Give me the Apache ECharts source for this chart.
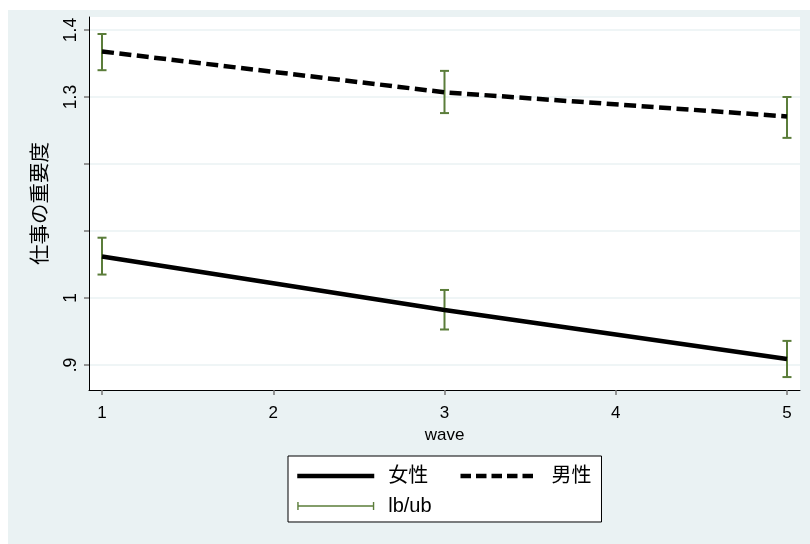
<!DOCTYPE html>
<html>
<head>
<meta charset="utf-8">
<script src="https://cdn.jsdelivr.net/npm/echarts@6/dist/echarts.min.js"></script>
<style>
html,body{margin:0;padding:0;background:#fff;}
#chart{position:absolute;left:8px;top:10px;width:802px;height:534px;}
</style>
</head>
<body>
<div id="chart"></div>
<script>
// ---- data ----
const waves = [1, 3, 5];
const femaleMean = [1.062, 0.982, 0.909];
const maleMean   = [1.368, 1.307, 1.271];
const femaleLB = [1.035, 0.953, 0.882];
const femaleUB = [1.090, 1.012, 0.936];
const maleLB   = [1.340, 1.276, 1.239];
const maleUB   = [1.394, 1.339, 1.300];
const xTicks = [1, 2, 3, 4, 5];
const yTicks = [0.9, 1.0, 1.1, 1.2, 1.3, 1.4];
const yTickLabels = ['.9', '1', '', '', '1.3', '1.4'];
const seriesNames = ['女性', '男性', 'lb/ub'];

const FONT = '"Liberation Sans", "Noto Sans CJK JP", sans-serif';
const GREEN = '#5b7d3a';

const errData = [];
waves.forEach((w, i) => { errData.push([w, femaleLB[i], femaleUB[i]]); });
waves.forEach((w, i) => { errData.push([w, maleLB[i], maleUB[i]]); });

const chart = echarts.init(document.getElementById('chart'));
chart.setOption({
  backgroundColor: '#EAF2F3',
  animation: false,
  textStyle: { fontFamily: FONT },
  grid: { left: 81, top: 7, width: 711, height: 373, show: true, backgroundColor: '#fff', borderWidth: 0 },
  xAxis: {
    type: 'value', min: 0.924, max: 5.076,
    name: 'wave', nameLocation: 'middle', nameGap: 37,
    nameTextStyle: { fontSize: 17, color: '#000', fontFamily: FONT },
    axisLine: { show: true, onZero: false, lineStyle: { color: '#000', width: 1 } },
    axisTick: { show: true, customValues: xTicks, length: 5, lineStyle: { color: '#777', width: 1.5 } },
    axisLabel: { customValues: xTicks, fontSize: 17, color: '#000', margin: 15, fontFamily: FONT },
    splitLine: { show: false }
  },
  yAxis: {
    type: 'value', min: 0.8627, max: 1.4194,
    name: '仕事の重要度', nameLocation: 'middle', nameGap: 37,
    nameTextStyle: { fontSize: 20.5, color: '#000', fontFamily: FONT },
    axisLine: { show: true, onZero: false, lineStyle: { color: '#000', width: 1 } },
    axisTick: { show: true, customValues: yTicks, length: 5, lineStyle: { color: '#777', width: 1.5 } },
    axisLabel: {
      customValues: yTicks, rotate: 90, fontSize: 17.5, color: '#000', margin: 9, fontFamily: FONT,
      formatter: function (v) {
        for (let i = 0; i < yTicks.length; i++) { if (Math.abs(yTicks[i] - v) < 1e-6) return yTickLabels[i]; }
        return '';
      }
    },
    splitLine: { show: true, lineStyle: { color: '#EAF2F3', width: 1.5 } }
  },
  legend: {
    left: 280, top: 446, orient: 'horizontal', width: 300,
    itemWidth: 77, itemHeight: 8, itemGap: 10,
    padding: [10, 10, 6, 7],
    borderColor: '#000', borderWidth: 1, backgroundColor: '#fff', borderRadius: 0,
    formatter: function (name) { return name === seriesNames[0] ? name + '\u3000' : name; },
    textStyle: { fontSize: 20, color: '#000', fontFamily: FONT, padding: [0, 0, 0, 9] },
    data: [
      { name: seriesNames[0], itemStyle: { opacity: 0 }, lineStyle: { width: 4.5, color: '#000', type: 'solid' } },
      { name: seriesNames[1], itemStyle: { opacity: 0 }, lineStyle: { width: 4.5, color: '#000', type: [10.5, 5] } },
      { name: seriesNames[2], icon: 'path://M0,0h1.4v8h-1.4zM1.4,3.3h74.2v1.4h-74.2zM75.6,0h1.4v8h-1.4z' }
    ]
  },
  series: [
    {
      name: seriesNames[2], type: 'custom', z: 2,
      itemStyle: { color: GREEN },
      data: errData,
      renderItem: function (params, api) {
        const x = api.value(0);
        const lo = api.coord([x, api.value(1)]);
        const hi = api.coord([x, api.value(2)]);
        const hw = 4.5;
        const st = { stroke: GREEN, lineWidth: 2 };
        return {
          type: 'group',
          children: [
            { type: 'line', shape: { x1: lo[0], y1: lo[1], x2: hi[0], y2: hi[1] }, style: st },
            { type: 'line', shape: { x1: lo[0] - hw, y1: lo[1], x2: lo[0] + hw, y2: lo[1] }, style: st },
            { type: 'line', shape: { x1: hi[0] - hw, y1: hi[1], x2: hi[0] + hw, y2: hi[1] }, style: st }
          ]
        };
      }
    },
    {
      name: seriesNames[0], type: 'line', z: 3, symbol: 'none',
      itemStyle: { color: '#000' },
      lineStyle: { color: '#000', width: 4.5 },
      data: waves.map((w, i) => [w, femaleMean[i]])
    },
    {
      name: seriesNames[1], type: 'line', z: 3, symbol: 'none',
      itemStyle: { color: '#000' },
      lineStyle: { color: '#000', width: 4.5, type: [12, 5.5] },
      data: waves.map((w, i) => [w, maleMean[i]])
    }
  ]
});
</script>
</body>
</html>
